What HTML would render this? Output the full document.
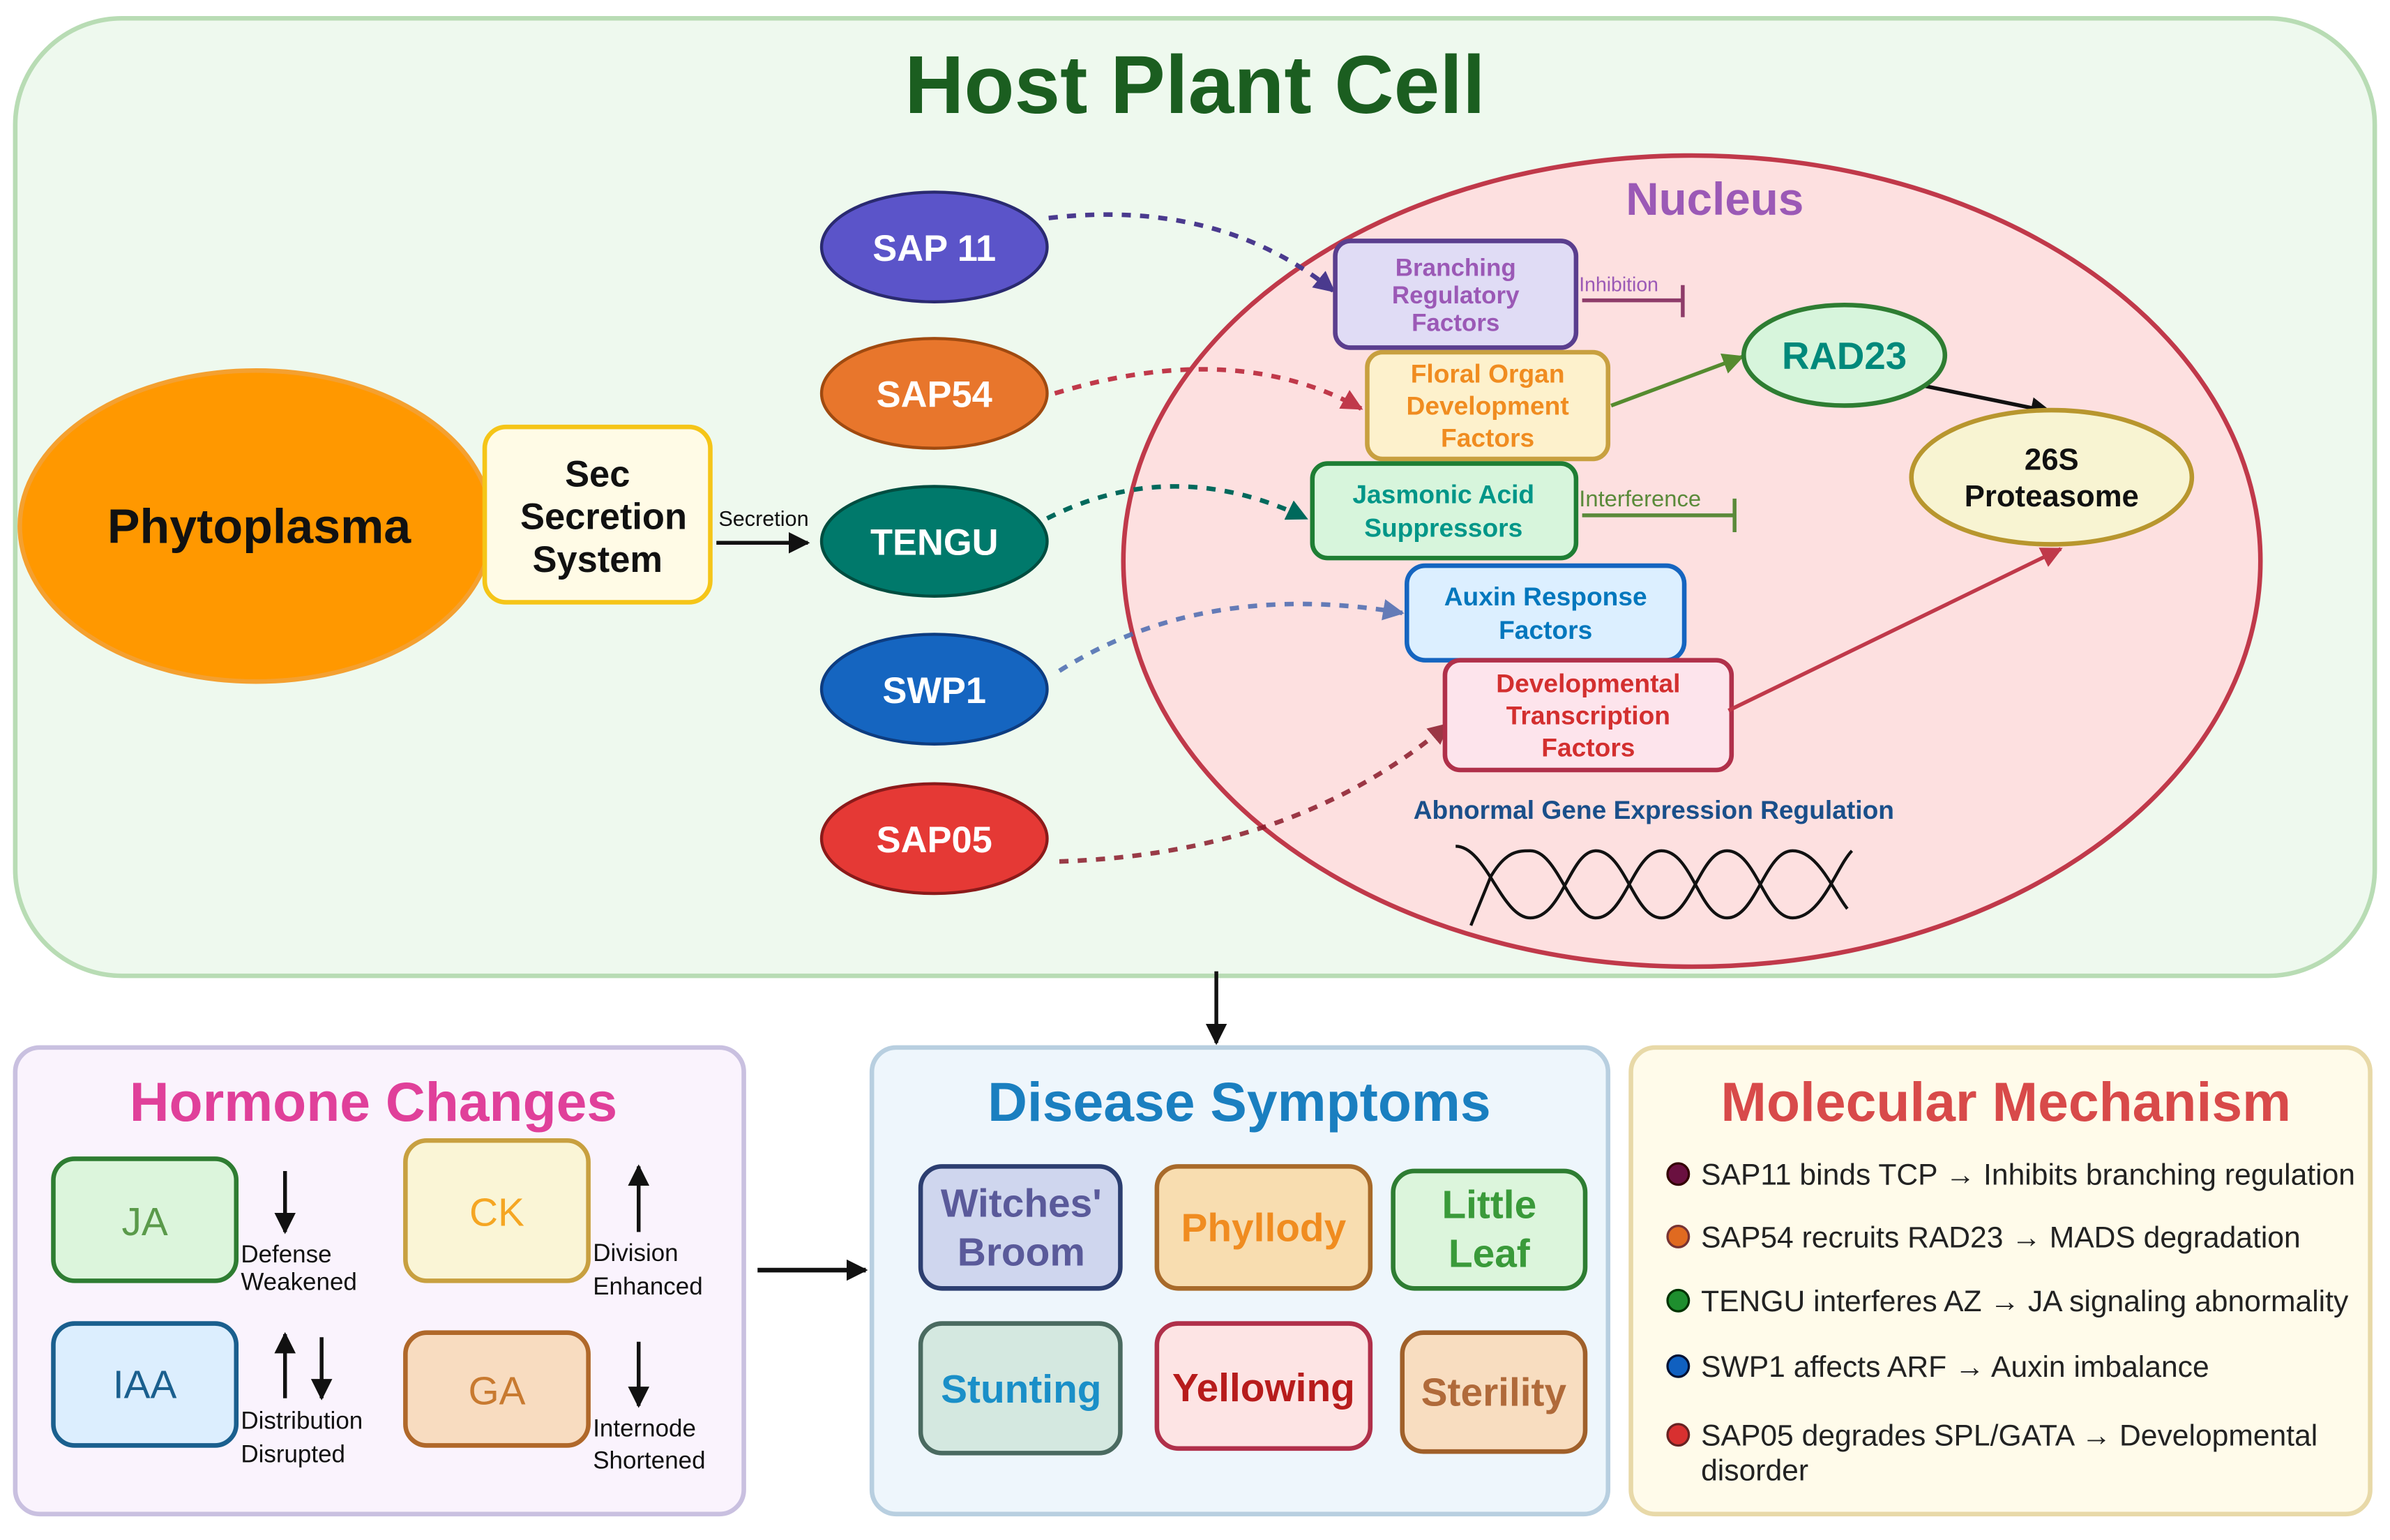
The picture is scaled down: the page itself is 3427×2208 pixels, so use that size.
<!DOCTYPE html>
<html><head><meta charset="utf-8"><style>html,body{margin:0;padding:0;background:#fff}svg{display:block}text{font-family:"Liberation Sans",sans-serif}</style></head>
<body>
<svg width="3427" height="2208" viewBox="0 0 1568 1010" preserveAspectRatio="none" xmlns="http://www.w3.org/2000/svg">
<defs>
<marker id="m1" viewBox="0 0 10 10" refX="9" refY="5" markerWidth="14" markerHeight="14" orient="auto" markerUnits="userSpaceOnUse"><path d="M0,0L10,5L0,10z" fill="#4a3a8e"/></marker>
<marker id="m2" viewBox="0 0 10 10" refX="9" refY="5" markerWidth="14" markerHeight="14" orient="auto" markerUnits="userSpaceOnUse"><path d="M0,0L10,5L0,10z" fill="#c0394a"/></marker>
<marker id="m3" viewBox="0 0 10 10" refX="9" refY="5" markerWidth="14" markerHeight="14" orient="auto" markerUnits="userSpaceOnUse"><path d="M0,0L10,5L0,10z" fill="#00695c"/></marker>
<marker id="m4" viewBox="0 0 10 10" refX="9" refY="5" markerWidth="14" markerHeight="14" orient="auto" markerUnits="userSpaceOnUse"><path d="M0,0L10,5L0,10z" fill="#4a6ab0"/></marker>
<marker id="m5" viewBox="0 0 10 10" refX="9" refY="5" markerWidth="14" markerHeight="14" orient="auto" markerUnits="userSpaceOnUse"><path d="M0,0L10,5L0,10z" fill="#8b1a2a"/></marker>
<marker id="mg" viewBox="0 0 10 10" refX="9" refY="5" markerWidth="14" markerHeight="14" orient="auto" markerUnits="userSpaceOnUse"><path d="M0,0L10,5L0,10z" fill="#558b2f"/></marker>
<marker id="mk" viewBox="0 0 10 10" refX="9" refY="5" markerWidth="14" markerHeight="14" orient="auto" markerUnits="userSpaceOnUse"><path d="M0,0L10,5L0,10z" fill="#111"/></marker>
<marker id="mr" viewBox="0 0 10 10" refX="9" refY="5" markerWidth="14" markerHeight="14" orient="auto" markerUnits="userSpaceOnUse"><path d="M0,0L10,5L0,10z" fill="#c0394a"/></marker>
</defs>
<rect x="10" y="12" width="1548" height="628" rx="70" fill="#eef9ee" stroke="#b8dcb4" stroke-width="3"/>
<text x="784" y="74" font-size="54" font-weight="bold" fill="#1b5e20" text-anchor="middle">Host Plant Cell</text>

<ellipse cx="168" cy="345" rx="155" ry="102" fill="#ff9800" stroke="#f4a030" stroke-width="3"/>
<text x="170" y="356" font-size="32" font-weight="bold" text-anchor="middle" fill="#111">Phytoplasma</text>
<rect x="318" y="280" width="148" height="115" rx="14" fill="#fffbe6" stroke="#f5c518" stroke-width="3"/>
<text font-size="24" text-anchor="middle" fill="#111" font-weight="bold"><tspan x="392" y="319">Sec</tspan><tspan x="396" y="347">Secretion</tspan><tspan x="392" y="375">System</tspan></text>
<line x1="470" y1="356" x2="530" y2="356" stroke="#111" stroke-width="2.5" marker-end="url(#mk)"/>
<text x="501" y="345" font-size="14" text-anchor="middle" fill="#111">Secretion</text>

<ellipse cx="1110" cy="368" rx="373" ry="266" fill="#fde0e0" stroke="#c0394a" stroke-width="3"/>
<text x="1125" y="141" font-size="30" font-weight="bold" fill="#9b59b6" text-anchor="middle">Nucleus</text>

<g stroke-width="3" fill="none" stroke-dasharray="6,6">
<path d="M688,143 Q800,130 875,191" stroke="#4a3a8e" marker-end="url(#m1)"/>
<path d="M692,258 Q810,222 893,268" stroke="#c0394a" marker-end="url(#m2)"/>
<path d="M687,340 Q770,298 857,340" stroke="#00695c" marker-end="url(#m3)"/>
<path d="M695,440 Q790,380 920,402" stroke="#4a6ab0" opacity="0.85" marker-end="url(#m4)"/>
<path d="M695,565 Q850,560 950,475" stroke="#8b1a2a" opacity="0.85" marker-end="url(#m5)"/>
</g>

<g font-size="24" font-weight="bold" fill="#fff" text-anchor="middle">
<ellipse cx="613" cy="162" rx="74" ry="36" fill="#5b54c9" stroke="#2a2a70" stroke-width="2"/><text x="613" y="171">SAP 11</text>
<ellipse cx="613" cy="258" rx="74" ry="36" fill="#e8762c" stroke="#a04a10" stroke-width="2"/><text x="613" y="267">SAP54</text>
<ellipse cx="613" cy="355" rx="74" ry="36" fill="#00796b" stroke="#004d40" stroke-width="2"/><text x="613" y="364">TENGU</text>
<ellipse cx="613" cy="452" rx="74" ry="36" fill="#1565c0" stroke="#0d3c80" stroke-width="2"/><text x="613" y="461">SWP1</text>
<ellipse cx="613" cy="550" rx="74" ry="36" fill="#e53935" stroke="#8b1a1a" stroke-width="2"/><text x="613" y="559">SAP05</text>
</g>

<g stroke-width="3" text-anchor="middle" font-size="16" font-weight="bold">
<rect x="876" y="158" width="158" height="70" rx="10" fill="#e0dcf5" stroke="#5a3e8e"/>
<text fill="#9b59b6" stroke="none"><tspan x="955" y="181">Branching</tspan><tspan x="955" y="199">Regulatory</tspan><tspan x="955" y="217">Factors</tspan></text>
<rect x="897" y="231" width="158" height="70" rx="10" fill="#fdf1cc" stroke="#c8a040"/>
<text fill="#f08c20" stroke="none" font-size="17"><tspan x="976" y="251">Floral Organ</tspan><tspan x="976" y="272">Development</tspan><tspan x="976" y="293">Factors</tspan></text>
<rect x="861" y="304" width="173" height="62" rx="10" fill="#d7f5dc" stroke="#1e7e34"/>
<text fill="#009688" stroke="none" font-size="17"><tspan x="947" y="330">Jasmonic Acid</tspan><tspan x="947" y="352">Suppressors</tspan></text>
<rect x="923" y="371" width="182" height="62" rx="12" fill="#dcefff" stroke="#1565c0"/>
<text fill="#0277bd" stroke="none" font-size="17"><tspan x="1014" y="397">Auxin Response</tspan><tspan x="1014" y="419">Factors</tspan></text>
<rect x="948" y="433" width="188" height="72" rx="10" fill="#fde4ec" stroke="#b0304a"/>
<text fill="#d32f2f" stroke="none" font-size="17"><tspan x="1042" y="454">Developmental</tspan><tspan x="1042" y="475">Transcription</tspan><tspan x="1042" y="496">Factors</tspan></text>
</g>

<line x1="1038" y1="197" x2="1104" y2="197" stroke="#8e3c6a" stroke-width="2.5"/><line x1="1104" y1="187" x2="1104" y2="208" stroke="#8e3c6a" stroke-width="2.5"/>
<text x="1036" y="191" font-size="13" fill="#9b59b6">Inhibition</text>
<line x1="1038" y1="338" x2="1138" y2="338" stroke="#5a8a3a" stroke-width="2.5"/><line x1="1138" y1="327" x2="1138" y2="349" stroke="#5a8a3a" stroke-width="2.5"/>
<text x="1036" y="332" font-size="15" fill="#5a8a3a">Interference</text>

<line x1="1057" y1="266" x2="1143" y2="234" stroke="#558b2f" stroke-width="2.5" marker-end="url(#mg)"/>
<line x1="1262" y1="253" x2="1345" y2="270" stroke="#111" stroke-width="2.5" marker-end="url(#mk)"/>
<line x1="1134" y1="466" x2="1352" y2="360" stroke="#c0394a" stroke-width="2.5" marker-end="url(#mr)"/>

<ellipse cx="1210" cy="233" rx="66" ry="33" fill="#d7f5dc" stroke="#2e7d32" stroke-width="3"/>
<text x="1210" y="242" font-size="25" font-weight="bold" fill="#00897b" text-anchor="middle">RAD23</text>
<ellipse cx="1346" cy="313" rx="92" ry="44" fill="#f8f4d2" stroke="#b8962e" stroke-width="3"/>
<text font-size="20" font-weight="bold" fill="#111" text-anchor="middle"><tspan x="1346" y="308">26S</tspan><tspan x="1346" y="332">Proteasome</tspan></text>

<text x="1085" y="537" font-size="17" font-weight="bold" fill="#1a4f8a" text-anchor="middle">Abnormal Gene Expression Regulation</text>
<path d="M955,555 C975,555 985,602 1004,602 C1025,602 1030,558 1047,558 C1066,558 1072,602 1090,602 C1110,602 1115,558 1133,558 C1152,558 1158,602 1176,602 C1195,602 1205,568 1215,558" fill="none" stroke="#111" stroke-width="2"/>
<path d="M965,607 L978,575 C988,558 996,558 1004,558 C1022,558 1030,602 1047,602 C1066,602 1072,558 1090,558 C1110,558 1115,602 1133,602 C1152,602 1158,558 1176,558 C1193,558 1203,585 1212,596" fill="none" stroke="#111" stroke-width="2"/>

<line x1="798" y1="637" x2="798" y2="684" stroke="#111" stroke-width="2.5" marker-end="url(#mk)"/>

<rect x="10" y="687" width="478" height="306" rx="16" fill="#faf3fd" stroke="#c9c0e0" stroke-width="3"/>
<text x="245" y="735" font-size="36" font-weight="bold" fill="#e0409a" text-anchor="middle">Hormone Changes</text>
<g stroke-width="3" font-size="26" text-anchor="middle">
<rect x="35" y="760" width="120" height="80" rx="14" fill="#dcf5dc" stroke="#2e7d32"/><text x="95" y="810" fill="#5a9a4a">JA</text>
<rect x="266" y="748" width="120" height="92" rx="14" fill="#faf5d6" stroke="#c8a040"/><text x="326" y="804" fill="#f5a623">CK</text>
<rect x="35" y="868" width="120" height="80" rx="14" fill="#dceefe" stroke="#1a5f8e"/><text x="95" y="917" fill="#1a5f8e">IAA</text>
<rect x="266" y="874" width="120" height="74" rx="14" fill="#f8dcc0" stroke="#b0682a"/><text x="326" y="921" fill="#c87a30">GA</text>
</g>
<g stroke="#111" stroke-width="2.5">
<line x1="187" y1="768" x2="187" y2="808" marker-end="url(#mk)"/>
<line x1="419" y1="808" x2="419" y2="765" marker-end="url(#mk)"/>
<line x1="187" y1="917" x2="187" y2="875" marker-end="url(#mk)"/>
<line x1="211" y1="877" x2="211" y2="917" marker-end="url(#mk)"/>
<line x1="419" y1="880" x2="419" y2="922" marker-end="url(#mk)"/>
</g>
<g font-size="16" fill="#111">
<text x="158" y="828">Defense</text><text x="158" y="846">Weakened</text>
<text x="389" y="827">Division</text><text x="389" y="849">Enhanced</text>
<text x="158" y="937">Distribution</text><text x="158" y="959">Disrupted</text>
<text x="389" y="942">Internode</text><text x="389" y="963">Shortened</text>
</g>
<line x1="497" y1="833" x2="568" y2="833" stroke="#111" stroke-width="3" marker-end="url(#mk)"/>

<rect x="572" y="687" width="483" height="306" rx="16" fill="#eef6fc" stroke="#b8cfe0" stroke-width="3"/>
<text x="813" y="735" font-size="36" font-weight="bold" fill="#1a7fc0" text-anchor="middle">Disease Symptoms</text>
<g stroke-width="3" font-size="26" text-anchor="middle" font-weight="bold">
<rect x="604" y="765" width="131" height="80" rx="14" fill="#cfd6ee" stroke="#2c3e70"/><text fill="#5a5a9a"><tspan x="670" y="798">Witches'</tspan><tspan x="670" y="830">Broom</tspan></text>
<rect x="759" y="765" width="140" height="80" rx="14" fill="#f8ddb0" stroke="#a86a2a"/><text x="829" y="814" fill="#f08c20">Phyllody</text>
<rect x="914" y="768" width="126" height="77" rx="14" fill="#dcf5dc" stroke="#2e7d32"/><text fill="#3a9a3a"><tspan x="977" y="799">Little</tspan><tspan x="977" y="831">Leaf</tspan></text>
<rect x="604" y="868" width="131" height="85" rx="14" fill="#d4e8e0" stroke="#4a6a60"/><text x="670" y="920" fill="#1a8fc8">Stunting</text>
<rect x="759" y="868" width="140" height="82" rx="14" fill="#fde4e4" stroke="#b0304a"/><text x="829" y="919" fill="#b71c1c">Yellowing</text>
<rect x="920" y="874" width="120" height="78" rx="14" fill="#f8ddc0" stroke="#a0602a"/><text x="980" y="922" fill="#b06a3a">Sterility</text>
</g>

<rect x="1070" y="687" width="485" height="306" rx="16" fill="#fffbea" stroke="#e8d9a8" stroke-width="3"/>
<text x="1316" y="735" font-size="36" font-weight="bold" fill="#d84a4a" text-anchor="middle">Molecular Mechanism</text>
<g stroke-width="1.5">
<circle cx="1101" cy="770" r="7" fill="#6a1040" stroke="#300"/>
<circle cx="1101" cy="811" r="7" fill="#e06a20" stroke="#733"/>
<circle cx="1101" cy="853" r="7" fill="#1e8e2e" stroke="#030"/>
<circle cx="1101" cy="896" r="7" fill="#1060c0" stroke="#013"/>
<circle cx="1101" cy="941" r="7" fill="#d83030" stroke="#622"/>
</g>
<g font-size="19.5" fill="#222">
<text x="1116" y="777">SAP11 binds TCP → Inhibits branching regulation</text>
<text x="1116" y="818">SAP54 recruits RAD23 → MADS degradation</text>
<text x="1116" y="860">TENGU interferes AZ → JA signaling abnormality</text>
<text x="1116" y="903">SWP1 affects ARF → Auxin imbalance</text>
<text x="1116" y="948">SAP05 degrades SPL/GATA → Developmental</text>
<text x="1116" y="971">disorder</text>
</g>
</svg>
</body></html>
